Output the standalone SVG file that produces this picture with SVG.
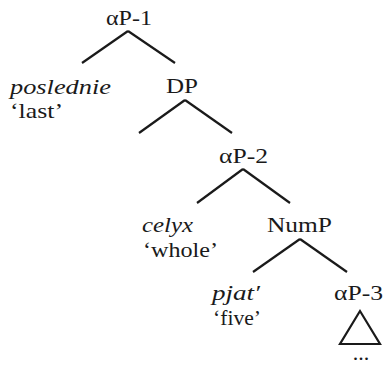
<svg xmlns="http://www.w3.org/2000/svg" width="383" height="366" viewBox="0 0 383 366">
<style>
.edge{stroke:#1a1a1a;stroke-width:2.2;fill:none;stroke-linecap:butt}
</style>
<rect width="383" height="366" fill="#fff"/>
<g id="connectors">
<line class="edge" x1="128" y1="31" x2="82" y2="63"/>
<line class="edge" x1="128" y1="31" x2="175" y2="63"/>
<line class="edge" x1="185" y1="100" x2="139" y2="133"/>
<line class="edge" x1="185" y1="100" x2="232" y2="133"/>
<line class="edge" x1="243" y1="169" x2="197" y2="203"/>
<line class="edge" x1="243" y1="169" x2="290" y2="203"/>
<line class="edge" x1="300" y1="239" x2="253" y2="272"/>
<line class="edge" x1="300" y1="239" x2="347" y2="272"/>
</g>
<g font-family="Liberation Serif, Tinos, Times New Roman, serif" font-size="22" fill="#1a1a1a">
<g id="aP1"><text x="106" y="25" textLength="46" lengthAdjust="spacingAndGlyphs">αP-1</text></g>
<g id="poslednie"><text font-style="italic" x="10" y="94" textLength="101" lengthAdjust="spacingAndGlyphs">poslednie</text><text x="10" y="118" textLength="53" lengthAdjust="spacingAndGlyphs">‘last’</text></g>
<g id="DP"><text x="166" y="93" textLength="32" lengthAdjust="spacingAndGlyphs">DP</text></g>
<g id="aP2"><text x="219" y="163" textLength="49" lengthAdjust="spacingAndGlyphs">αP-2</text></g>
<g id="celyx"><text font-style="italic" x="142" y="232" textLength="51" lengthAdjust="spacingAndGlyphs">celyx</text><text x="143" y="257" textLength="75" lengthAdjust="spacingAndGlyphs">‘whole’</text></g>
<g id="NumP"><text x="267" y="232" textLength="65" lengthAdjust="spacingAndGlyphs">NumP</text></g>
<g id="pjat"><text font-style="italic" x="212" y="300" textLength="48" lengthAdjust="spacingAndGlyphs">pjat′</text><text x="213" y="325" textLength="48" lengthAdjust="spacingAndGlyphs">‘five’</text></g>
<g id="aP3"><text x="334" y="300" textLength="49" lengthAdjust="spacingAndGlyphs">αP-3</text>
<polygon class="edge" points="360,311 340,344 380,344"/>
<text x="361" y="360" text-anchor="middle">...</text></g>
</g>
</svg>
